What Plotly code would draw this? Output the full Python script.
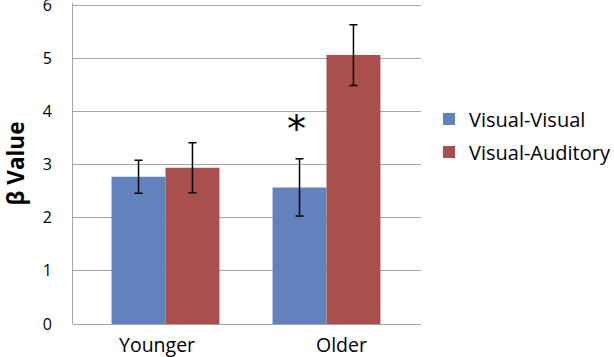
import plotly.graph_objects as go

groups = ["Younger", "Older"]
series_names = ["Visual-Visual", "Visual-Auditory"]
vv_values = [2.77, 2.57]
vv_errors = [0.31, 0.54]
va_values = [2.94, 5.06]
va_errors = [0.47, 0.57]
y_ticks = [0, 1, 2, 3, 4, 5, 6]

colors = ["#6282BE", "#A9504E"]
font_family = "Open Sans, Liberation Sans, Arial, sans-serif"

fig = go.Figure()
for name, vals, errs, col in [
    (series_names[0], vv_values, vv_errors, colors[0]),
    (series_names[1], va_values, va_errors, colors[1]),
]:
    fig.add_trace(go.Bar(
        x=groups, y=vals, name=name, legendgroup=name,
        marker=dict(color=col, line=dict(width=0)),
        error_y=dict(type="data", array=errs, color="black", thickness=1.5, width=4),
    ))

fig.add_annotation(x=1, xshift=-30, y=3.8, text="*", showarrow=False,
                   font=dict(size=38, color="black", family="DejaVu Sans, sans-serif"),
                   yanchor="middle", yshift=-7)

# category labels placed like the original (centred in their bands)
label_shifts = [-8, 15]
for g, sh in zip(groups, label_shifts):
    fig.add_annotation(x=g, xshift=sh, y=0, yref="y", yshift=-20, text=g,
                       showarrow=False, yanchor="middle",
                       font=dict(size=19.5, color="black", family=font_family))

fig.update_layout(
    width=614, height=357,
    margin=dict(l=73, r=193, t=3, b=33, autoexpand=False),
    paper_bgcolor="white", plot_bgcolor="white",
    barmode="group", bargap=0.33, bargroupgap=0,
    font=dict(family=font_family, color="black"),
    showlegend=True,
    legend=dict(x=1.023, y=0.587, xanchor="left", yanchor="middle",
                bgcolor="rgba(0,0,0,0)",
                font=dict(size=20, color="black"), itemwidth=30,
                traceorder="grouped", tracegroupgap=4),
    xaxis=dict(range=[-0.5745, 1.587], showgrid=False, showline=False,
               ticks="", showticklabels=False),
    yaxis=dict(range=[0, 6.04], tickvals=y_ticks, showgrid=True, gridcolor="#A6A6A6",
               gridwidth=1, showline=True, linecolor="#A6A6A6", linewidth=1,
               zeroline=True, zerolinecolor="#A6A6A6", zerolinewidth=1,
               ticks="", tickfont=dict(size=16), ticklabelstandoff=17,
               ticklabeloverflow="allow",
               title=dict(text="<b>β Value</b>", font=dict(size=22.5), standoff=19)),
)

fig.write_html("out.html", config={"displayModeBar": False},
               post_script="document.body.style.margin='0';document.body.style.overflow='hidden';")
